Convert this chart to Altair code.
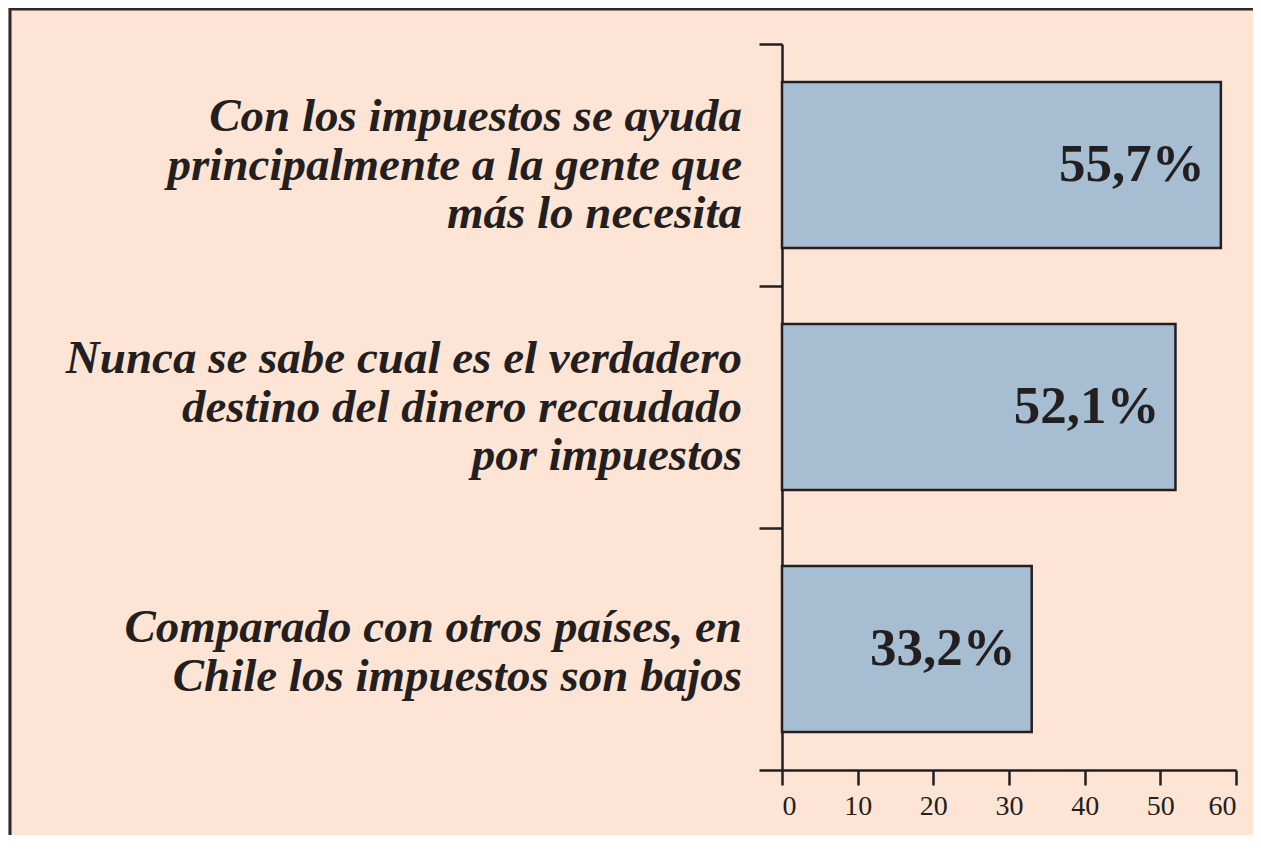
import altair as alt
import pandas as pd

# Data
labels = [
    "Con los impuestos se ayuda|principalmente a la gente que|más lo necesita",
    "Nunca se sabe cual es el verdadero|destino del dinero recaudado|por impuestos",
    "Comparado con otros países, en|Chile los impuestos son bajos",
]
bar_values = [58.0, 52.0, 33.0]          # bar lengths as drawn
value_text = ["55,7%", "52,1%", "33,2%"]  # printed labels
x_ticks = [0, 10, 20, 30, 40, 50, 60]

df = pd.DataFrame({"label": labels, "value": bar_values, "text": value_text})

INK = "#231F20"
W, H = 454, 726

y_scale = alt.Scale(paddingInner=0, paddingOuter=0)

y_enc = alt.Y(
    "label:N",
    sort=None,
    scale=y_scale,
    axis=alt.Axis(
        title=None,
        labels=False,
        tickBand="extent",
        tickSize=23,
        tickWidth=2.5,
        tickColor=INK,
        domainColor=INK,
        domainWidth=2.5,
    ),
)

x_enc = alt.X(
    "value:Q",
    scale=alt.Scale(domain=[0, 60], nice=False),
    axis=alt.Axis(
        title=None,
        values=x_ticks,
        labelFont="Liberation Serif",
        labelFontSize=28,
        labelColor=INK,
        labelPadding=7,
        tickSize=15,
        tickWidth=2.5,
        tickColor=INK,
        domainColor=INK,
        domainWidth=2.5,
        grid=False,
    ),
)

base = alt.Chart(df)

bars = base.mark_bar(
    height={"band": 0.686}, fill="#A7BED2", stroke=INK, strokeWidth=2.5
).encode(x=x_enc, y=y_enc)

texts = base.mark_text(
    align="right",
    baseline="alphabetic",
    dx=-16,
    dy=16,
    font="Liberation Serif",
    fontWeight="bold",
    fontSize=53,
    color=INK,
).encode(x=alt.X("value:Q"), y=alt.Y("label:N", sort=None), text="text:N")


def cat_labels(n_lines, dy):
    return (
        base.transform_calculate(n="length(split(datum.label, '|'))")
        .transform_filter(f"datum.n == {n_lines}")
        .mark_text(
            align="right",
            baseline="middle",
            lineBreak="|",
            lineHeight=48.5,
            dx=-40,
            dy=dy,
            font="Liberation Serif",
            fontStyle="italic",
            fontWeight="bold",
            fontSize=47,
            color=INK,
        )
        .encode(x=alt.value(0), y=alt.Y("label:N", sort=None), text="label:N")
    )


labels3 = cat_labels(3, -48)
labels2 = cat_labels(2, -21)

frame = alt.Chart(pd.DataFrame({"f": [0]})).mark_rect(
    filled=False, stroke="#2A2A2A", strokeWidth=3
).encode(
    x=alt.value(-772), x2=alt.value(W + 100), y=alt.value(-35), y2=alt.value(H + 100)
)

chart = (
    alt.layer(bars, texts, labels3, labels2, frame)
    .properties(
        width=W,
        height=H,
        autosize=alt.AutoSizeParams(type="none"),
        padding={"left": 774, "top": 36, "right": 17, "bottom": 65},
        background="#FEE4D4",
    )
    .configure_view(stroke=None)
)

chart.save("out.html", embed_options={"renderer": "svg", "actions": False})
